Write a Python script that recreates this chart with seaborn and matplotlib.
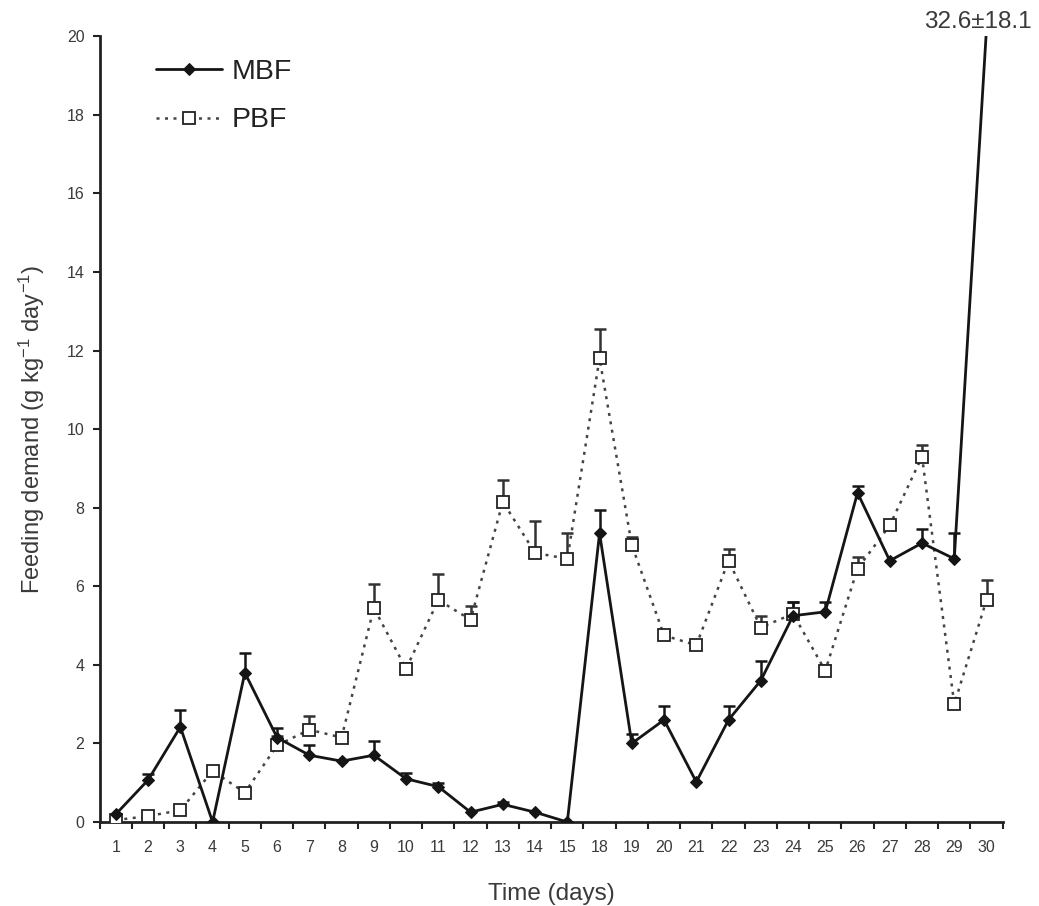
import numpy as np
import matplotlib
matplotlib.use("Agg")
import matplotlib.pyplot as plt
import seaborn as sns

# days on the x axis (16 and 17 are not in the series)
days = ["1", "2", "3", "4", "5", "6", "7", "8", "9", "10", "11", "12", "13", "14", "15",
        "18", "19", "20", "21", "22", "23", "24", "25", "26", "27", "28", "29", "30"]

# MBF means and upper errors
mbf = [0.2, 1.07, 2.42, 0.0, 3.8, 2.15, 1.7, 1.55, 1.7, 1.1, 0.9, 0.25, 0.45, 0.25, 0.0,
       7.35, 2.0, 2.6, 1.02, 2.6, 3.6, 5.25, 5.35, 8.38, 6.65, 7.1, 6.7, 32.6]
mbf_err = [0.0, 0.15, 0.42, 0.0, 0.5, 0.25, 0.25, 0.0, 0.35, 0.15, 0.1, 0.0, 0.05, 0.0, 0.0,
           0.6, 0.25, 0.35, 0.0, 0.35, 0.5, 0.35, 0.25, 0.17, 0.0, 0.35, 0.65, 18.1]

# PBF means and upper errors
pbf = [0.05, 0.15, 0.3, 1.3, 0.75, 1.95, 2.35, 2.15, 5.45, 3.9, 5.65, 5.15, 8.15, 6.85, 6.7,
       11.8, 7.05, 4.75, 4.5, 6.65, 4.95, 5.3, 3.85, 6.45, 7.55, 9.3, 3.0, 5.65]
pbf_err = [0.0, 0.0, 0.0, 0.0, 0.0, 0.25, 0.35, 0.15, 0.6, 0.15, 0.65, 0.35, 0.55, 0.8, 0.65,
           0.75, 0.2, 0.1, 0.0, 0.3, 0.3, 0.3, 0.15, 0.3, 0.0, 0.3, 0.0, 0.5]

sns.set_style("ticks")
plt.rcParams["font.family"] = ["Liberation Sans", "DejaVu Sans"]
plt.rcParams["mathtext.fontset"] = "custom"
plt.rcParams["mathtext.rm"] = "Liberation Sans"
plt.rcParams["mathtext.it"] = "Liberation Sans"
txt = "#3a3a3a"

fig = plt.figure(figsize=(10.39, 9.06), dpi=100)
ax = fig.add_axes([0.096, 0.0927, 0.869, 0.8673])

pos = np.arange(len(days))
top = 20.0
# the original breaks the axis: the last MBF point is shown at the top edge
mbf_shown = np.minimum(mbf, top + 0.2)


def upper_bars(vals, errs, color):
    vals = np.asarray(vals, dtype=float)
    errs = np.asarray(errs, dtype=float)
    keep = errs > 0
    ends = np.minimum(vals + errs, top + 0.2)
    ax.vlines(pos[keep], vals[keep], ends[keep], color=color, linewidth=1.8, zorder=2)
    ax.plot(pos[keep & (vals + errs < top)], ends[keep & (vals + errs < top)],
            linestyle="none", marker="_", markersize=9, markeredgewidth=1.8,
            color=color, zorder=2)


upper_bars(pbf, pbf_err, "#333333")
upper_bars(mbf, mbf_err, "#151515")

sns.lineplot(x=pos, y=pbf, ax=ax, color="#444444", linestyle=(0, (1.2, 2.2)),
             linewidth=1.8, marker="s", markersize=8, markerfacecolor="white",
             markeredgecolor="#222222", markeredgewidth=1.3, label="PBF", zorder=3)
sns.lineplot(x=pos, y=mbf_shown, ax=ax, color="#151515", linewidth=2.0,
             marker="D", markersize=6.5, markerfacecolor="#151515",
             markeredgecolor="#151515", label="MBF", zorder=4)

ax.set_xlim(-0.5, len(days) - 0.5)
ax.set_ylim(0, top)

ax.set_xticks(pos)
ax.set_xticklabels(days, fontsize=11.5, color=txt)
ax.tick_params(axis="x", which="major", length=0, pad=13)
ax.set_xticks(np.arange(-0.5, len(days), 1.0), minor=True)
ax.tick_params(axis="x", which="minor", length=5, width=1.5, direction="out", color="#222222")

ax.set_yticks(np.arange(0, 21, 2))
ax.tick_params(axis="y", length=5, width=1.5, labelsize=11.5, labelcolor=txt,
               color="#222222", pad=6)

for side in ["top", "right"]:
    ax.spines[side].set_visible(False)
for side in ["left", "bottom"]:
    ax.spines[side].set_linewidth(2.0)
    ax.spines[side].set_color("#222222")

ax.set_xlabel("Time (days)", fontsize=17.5, color=txt, labelpad=20)
ax.set_ylabel("Feeding demand (g kg$^{-1}$ day$^{-1}$)", fontsize=17, color=txt, labelpad=14)

ax.annotate("32.6±18.1", xy=(len(days) - 1, top), xytext=(-6, 2),
            textcoords="offset points", ha="center", va="bottom",
            fontsize=17.5, color=txt, annotation_clip=False)

handles, labels = ax.get_legend_handles_labels()
order = [labels.index("MBF"), labels.index("PBF")]
ax.legend([handles[i] for i in order], [labels[i] for i in order],
          loc="upper left", bbox_to_anchor=(0.034, 1.004), frameon=False,
          fontsize=20.5, handlelength=2.3, labelspacing=0.8, handletextpad=0.35,
          labelcolor="#222222")

fig.savefig("out.png", dpi=100)
